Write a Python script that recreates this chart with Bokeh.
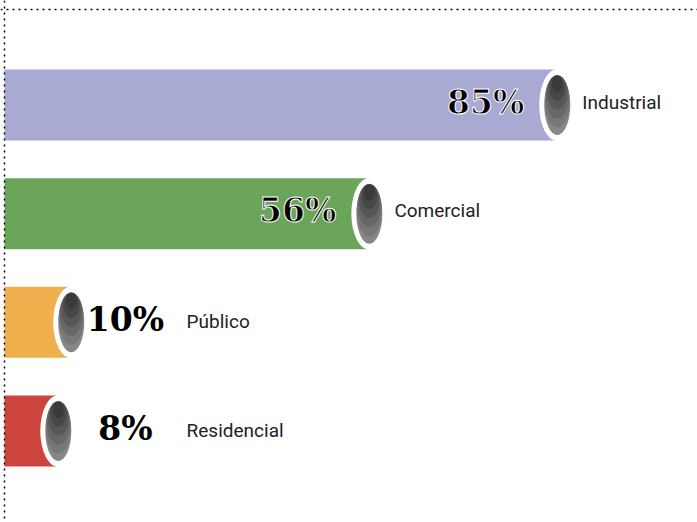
from bokeh.plotting import figure
from bokeh.models import Range1d, Span, ColumnDataSource
from bokeh.core.properties import value
from bokeh.embed import file_html
from bokeh.resources import INLINE

categories = ["Industrial", "Comercial", "Público", "Residencial"]
values = [85, 56, 10, 8]
pct_labels = ["85%", "56%", "10%", "8%"]
colors = ["#A9AAD4", "#6AA55A", "#F0B04E", "#CE4540"]

idx = list(range(len(categories)))

PX_X = 6.48      # screen px per percent
PX_Y = 108.67    # screen px per category slot

p = figure(width=697, height=522, output_backend="svg", toolbar_location=None,
           x_range=Range1d(-4 / PX_X, 693 / PX_X),
           y_range=Range1d(3.842, -0.962),
           min_border=0, outline_line_color=None, background_fill_color="white",
           border_fill_color="white")
p.xaxis.visible = False
p.yaxis.visible = False
p.grid.visible = False

capx = [v + 0.3 for v in values]
src = ColumnDataSource(dict(y=idx, v=values, c=colors, capx=capx))

p.hbar(y="y", left=0, right="v", height=71 / PX_Y, fill_color="c", line_color=None, source=src)
p.ellipse(x="capx", y="y", width=36, height=72, width_units="screen", height_units="screen",
          fill_color="white", line_color=None, source=src)

# cylinder end cap with a top-dark / bottom-light gradient built from nested ellipses
cap_layers = [  # (height px, shift up px, width px, colour)
    (60, 0.0, 26, "#878787"),
    (52, 3.5, 25, "#777777"),
    (43, 8.0, 23, "#676767"),
    (34, 12.5, 20, "#575757"),
    (25, 17.0, 16, "#474747"),
    (16, 21.0, 11, "#3a3a3a"),
]
for h, up, w, col in cap_layers:
    s = ColumnDataSource(dict(y=[i - up / PX_Y for i in idx], capx=capx))
    p.ellipse(x="capx", y="y", width=w, height=h, width_units="screen", height_units="screen",
              fill_color=col, line_color=None, source=s)

inside = [i for i, v in enumerate(values) if v >= 30]
outside = [i for i, v in enumerate(values) if v < 30]

src_in = ColumnDataSource(dict(x=[values[i] for i in inside], y=[i for i in inside],
                               lab=[pct_labels[i] for i in inside], cat=[categories[i] for i in inside]))
src_out = ColumnDataSource(dict(x=[18.67 for i in outside], xc=[28.1 for i in outside],
                                y=[i for i in outside],
                                lab=[pct_labels[i] for i in outside], cat=[categories[i] for i in outside]))

pct_style = dict(text_font=value("DejaVu Serif"), text_font_style="bold", text_font_size="33px",
                 text_color="black", text_baseline="middle")
p.text(x="x", y="y", text="lab", x_offset=-31, y_offset=-3, text_align="right",
       text_outline_color="white", source=src_in, **pct_style)
p.text(x="x", y="y", text="lab", y_offset=-3, text_align="center", source=src_out, **pct_style)

cat_style = dict(text_font=value("Roboto"), text_font_size="19px", text_color="#222222",
                 text_baseline="middle", text_align="left")
p.text(x="x", y="y", text="cat", x_offset=27, y_offset=-3, source=src_in, **cat_style)
p.text(x="xc", y="y", text="cat", y_offset=-1, source=src_out, **cat_style)

# dotted frame (top and left edges)
p.add_layout(Span(location=0, dimension="height", line_color="black",
                  line_width=1.5, line_dash="2 4"))
p.add_layout(Span(location=-0.879, dimension="width", line_color="black", line_width=1.5,
                  line_dash="2 4"))

open("out.html", "w").write(file_html(p, INLINE))
